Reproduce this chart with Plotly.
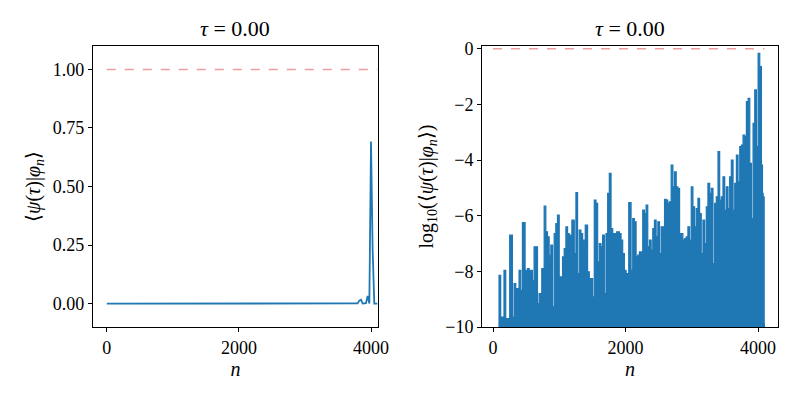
import plotly.graph_objects as go

n_vals = [0, 85, 91, 116, 166, 192, 252, 293, 318, 343, 393, 419, 444, 484, 520, 545, 595, 620, 671, 696, 736, 772, 797, 822, 847, 873, 898, 923, 948, 973, 999, 1049, 1074, 1100, 1125, 1150, 1190, 1226, 1251, 1276, 1301, 1327, 1352, 1392, 1427, 1453, 1503, 1528, 1554, 1579, 1604, 1629, 1654, 1680, 1705, 1730, 1755, 1781, 1806, 1831, 1866, 1907, 1932, 1957, 1982, 2008, 2048, 2083, 2108, 2134, 2159, 2184, 2209, 2259, 2285, 2310, 2335, 2361, 2386, 2411, 2436, 2461, 2487, 2512, 2537, 2588, 2613, 2638, 2663, 2688, 2714, 2739, 2764, 2789, 2815, 2840, 2865, 2890, 2915, 2941, 2966, 2991, 3016, 3042, 3067, 3092, 3117, 3142, 3168, 3193, 3218, 3243, 3269, 3294, 3319, 3344, 3369, 3395, 3420, 3445, 3470, 3496, 3521, 3546, 3571, 3596, 3622, 3647, 3672, 3697, 3723, 3748, 3773, 3798, 3823, 3849, 3874, 3899, 3924, 3949, 3975, 4000, 4025, 4050, 4066, 4076, 4091, 4095]
log_vals = [-14, -12, -8.14, -9.64, -7.96, -9.70, -6.70, -9.64, -8.44, -8.62, -7.96, -8.68, -6.25, -7.96, -7.90, -7.96, -8.32, -7.12, -9.16, -8.80, -7.90, -5.65, -6.58, -6.76, -7.42, -7.06, -9.28, -6.64, -6.28, -5.98, -8.20, -7.48, -7.18, -6.40, -6.64, -6.70, -6.16, -7.36, -5.17, -8.08, -6.52, -6.64, -6.88, -6.34, -8.02, -8.26, -8.92, -5.44, -5.56, -7.66, -7.00, -7.12, -6.70, -8.80, -6.64, -5.20, -4.48, -6.46, -6.64, -6.64, -6.58, -6.64, -6.88, -7.36, -7.96, -8.08, -5.53, -7.96, -6.10, -6.22, -7.48, -7.42, -7.30, -5.80, -5.92, -5.62, -7.12, -6.88, -7.24, -6.46, -6.16, -6.76, -6.22, -7.36, -6.40, -5.41, -5.44, -5.56, -5.50, -4.18, -4.96, -4.42, -4.96, -5.02, -6.64, -6.64, -6.88, -6.82, -6.76, -6.40, -6.88, -4.96, -5.68, -6.40, -5.74, -5.38, -5.92, -7.36, -6.16, -7.00, -5.68, -4.84, -5.20, -5.02, -7.72, -5.56, -5.32, -3.70, -5.44, -5.32, -4.60, -5.80, -4.96, -5.74, -4.60, -4.00, -5.80, -4.84, -3.82, -4.78, -3.52, -3.46, -3.10, -3.16, -1.90, -1.78, -4.12, -6.10, -2.68, -1.48, -3.52, -0.16, -0.64, -4.18, -5.20, -5.32, -9.88, -14]
floor_val = -10
x_ticks = [0, 2000, 4000]
left_y_ticks = [0.0, 0.25, 0.5, 0.75, 1.0]
right_y_ticks = [-10, -8, -6, -4, -2, 0]

lin_vals = [10 ** v for v in log_vals]
blue = "#1f77b4"
ref_col = "rgba(214,39,40,0.45)"
font = "Liberation Serif"

fig = go.Figure()
fig.add_trace(go.Scatter(x=[0, 4095], y=[1, 1], mode="lines", line=dict(color=ref_col, dash="dash", width=1.5), xaxis="x", yaxis="y"))
fig.add_trace(go.Scatter(x=n_vals, y=lin_vals, mode="lines", line=dict(color=blue, width=1.8), xaxis="x", yaxis="y"))
fig.add_trace(go.Scatter(x=[n_vals[0], n_vals[-1]], y=[floor_val, floor_val], mode="lines", line=dict(width=0), xaxis="x2", yaxis="y2"))
fig.add_trace(go.Scatter(x=n_vals, y=log_vals, mode="lines", fill="tonexty", fillcolor=blue, line=dict(color=blue, width=1.2, shape="hv"), xaxis="x2", yaxis="y2"))
fig.add_trace(go.Scatter(x=[0, 4095], y=[0, 0], mode="lines", line=dict(color=ref_col, dash="dash", width=1.5), xaxis="x2", yaxis="y2"))

tf = dict(family=font, size=20, color="black")
ax = dict(showgrid=False, zeroline=False, showline=True, linecolor="black", linewidth=1, mirror=True, automargin=False,
          ticks="outside", ticklen=4, tickcolor="black", tickfont=dict(family=font, size=18, color="black"))
fig.update_layout(
    width=800, height=400, showlegend=False, plot_bgcolor="white", paper_bgcolor="white",
    font=dict(family=font, color="black"),
    margin=dict(l=0, r=0, t=0, b=0),
    xaxis=dict(ax, domain=[0.106, 0.4625], range=[-212, 4106], tickvals=x_ticks, anchor="y",
               title=dict(text="<i>n</i>", font=tf, standoff=4)),
    yaxis=dict(ax, domain=[0.2025, 0.905], range=[-0.1, 1.1], tickvals=left_y_ticks, tickformat=".2f", anchor="x",
               title=dict(text="⟨<i>ψ</i>(<i>τ</i>)|<i>φ<sub>n</sub></i>⟩", font=tf, standoff=6)),
    xaxis2=dict(ax, domain=[0.5925, 0.9625], range=[-166, 4300], tickvals=x_ticks, anchor="y2",
                title=dict(text="<i>n</i>", font=tf, standoff=4)),
    yaxis2=dict(ax, domain=[0.2025, 0.905], range=[-10, 0.1], tickvals=right_y_ticks, anchor="x2",
                title=dict(text="log<sub>10</sub>(⟨<i>ψ</i>(<i>τ</i>)|<i>φ<sub>n</sub></i>⟩)", font=tf, standoff=6)),
    annotations=[
        dict(text="<i>τ</i> = 0.00", x=0.284, y=0.913, xref="paper", yref="paper", xanchor="center", yanchor="bottom", showarrow=False, font=dict(family=font, size=22, color="black")),
        dict(text="<i>τ</i> = 0.00", x=0.7775, y=0.913, xref="paper", yref="paper", xanchor="center", yanchor="bottom", showarrow=False, font=dict(family=font, size=22, color="black")),
    ],
)
fig.write_html("out.html")
